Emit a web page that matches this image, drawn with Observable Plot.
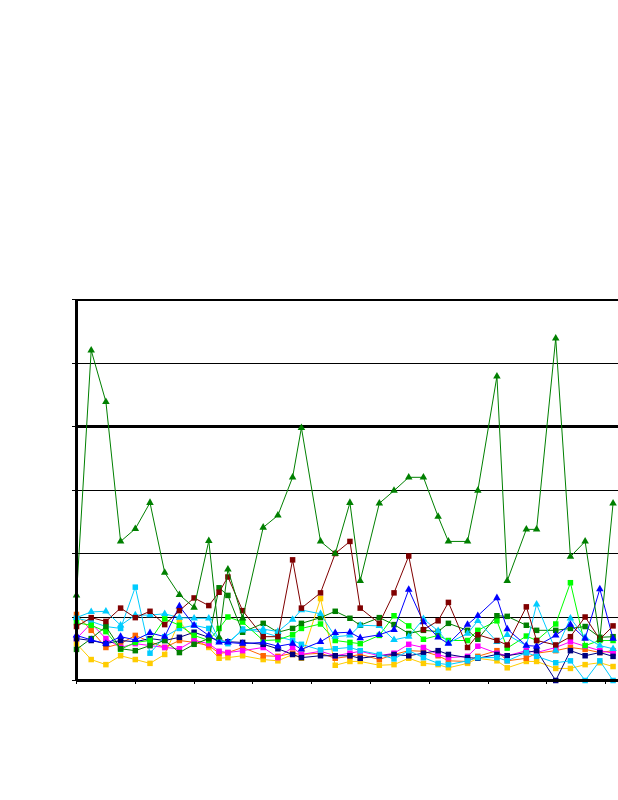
<!DOCTYPE html>
<html><head><meta charset="utf-8">
<script src="https://cdn.jsdelivr.net/npm/d3@7"></script>
<script src="https://cdn.jsdelivr.net/npm/@observablehq/plot@0.6"></script>
<style>body{margin:0;background:#fff;font-family:"Liberation Sans",Arial,sans-serif;}</style>
</head><body><div id="chart"></div>
<script>
// x positions (period index)
const xs = [0,1,2,3,4,5,6,7,8,9,9.7,10.3,11.3,12.7,13.7,14.7,15.3,16.6,17.6,18.6,19.3,20.6,21.6,22.6,23.6,24.6,25.3,26.6,27.3,28.6,29.3,30.6,31.3,32.6,33.6,34.6,35.6,36.5];

const greenTri = [13.4,52.0,43.9,21.9,23.9,28.0,17.0,13.5,11.5,22.0,6.8,17.5,9.8,24.1,26.0,32.0,39.8,21.9,20.0,28.0,15.7,27.9,29.9,32.0,32.0,25.8,21.9,21.9,29.9,47.9,15.7,23.8,23.8,53.9,19.5,21.9,6.5,27.9];
const darkRed = [8.5,9.9,9.3,11.4,9.9,10.9,8.8,11.0,13.0,11.8,13.9,16.3,11.0,6.9,6.9,19.0,11.4,13.8,20.0,21.9,11.4,9.0,13.8,19.6,8.0,9.4,12.3,5.2,7.2,6.3,5.6,11.6,6.3,5.6,6.9,10.0,6.5,8.6];
const blueTri = [7.1,6.4,5.8,6.9,6.4,7.5,6.9,11.7,8.7,7.1,6.0,6.0,5.8,6.0,5.4,5.8,4.9,6.1,7.5,7.6,6.7,7.2,8.0,14.3,9.2,6.8,5.8,8.8,10.2,13.0,8.1,5.5,5.4,7.1,8.8,6.6,14.4,6.6];
const skyTri = [9.9,10.8,10.9,8.7,10.3,10.3,10.5,9.9,9.8,9.8,6.3,6.0,7.9,8.1,7.7,9.6,11.1,10.5,6.9,7.1,8.7,8.6,6.4,6.9,9.7,7.8,5.9,7.4,9.4,6.1,7.2,5.5,12.0,4.7,9.8,6.8,5.5,5.0];
const skySq = [9.8,9.3,8.5,8.2,14.7,4.3,6.9,8.2,8.7,8.2,6.3,5.8,8.1,7.6,6.9,6.3,5.7,4.8,5.0,5.2,4.7,4.1,3.4,4.7,3.6,2.7,2.5,3.1,3.6,3.6,3.1,4.4,3.8,2.8,3.1,0.0,3.1,0.0];
const darkGreenSq = [4.9,6.6,8.5,5.0,4.7,5.5,6.3,4.4,5.7,6.6,14.6,13.4,7.6,9.0,7.6,8.2,9.0,9.9,10.9,9.8,8.7,9.9,8.8,7.4,7.9,7.7,9.0,7.9,6.5,10.2,10.1,8.7,7.9,7.9,8.2,8.5,6.8,6.9];
const limeSq = [9.1,8.7,7.7,4.9,6.0,6.3,9.7,8.7,7.1,6.3,8.2,10.0,9.2,6.3,6.4,7.2,8.2,8.9,6.3,6.0,5.8,7.1,10.2,8.6,6.5,7.1,6.3,6.3,7.9,9.4,5.1,7.0,6.3,8.9,15.4,5.5,6.3,6.3];
const navySq = [6.6,6.3,5.8,6.3,6.1,6.6,6.3,6.8,7.6,6.8,6.3,6.1,6.0,5.7,5.0,4.1,3.6,3.9,3.9,3.9,3.5,3.9,4.1,3.9,4.3,4.7,4.1,3.6,3.5,4.1,3.9,4.4,4.7,0.0,4.7,3.9,4.4,3.8];
const magentaSq = [6.6,9.0,6.6,5.2,5.8,5.5,5.2,5.0,6.3,5.8,4.6,4.4,4.7,5.2,3.6,5.2,4.1,4.6,3.9,4.3,4.6,3.9,4.3,5.7,5.2,4.1,3.6,3.8,5.4,4.3,3.9,4.7,4.4,5.2,6.1,5.4,4.7,4.3];
const orangeSq = [10.4,7.9,5.2,5.8,7.1,6.1,5.2,6.3,6.0,5.5,4.3,4.4,5.2,3.9,3.8,4.3,4.1,4.3,3.5,3.8,4.1,3.3,4.1,4.7,4.6,3.9,3.1,3.0,3.8,4.7,3.1,3.5,4.3,4.7,5.2,4.9,4.4,4.7];
const goldSq = [5.8,3.3,2.5,3.9,3.3,2.7,4.1,9.3,6.6,5.2,3.5,3.6,3.9,3.3,3.1,4.1,3.5,12.9,2.4,3.0,3.0,2.4,2.5,3.5,2.7,2.5,2.0,2.7,3.5,3.1,2.0,3.0,3.0,1.9,1.9,2.5,2.8,2.2];

const xTicks = [0,4,8,12,16,20,24,28,32,36];
const yTicks = [0,10,20,30,40,50,60];
const gridValues = [10,20,30,50];
const thickValue = [40];

// drawing order (first = bottom)
const seriesValues = [goldSq, orangeSq, magentaSq, navySq, skySq, limeSq, darkGreenSq, skyTri, blueTri, darkRed, greenTri];
const seriesColors = ["#FFCC00","#FF6600","#FF00FF","#000080","#00CCFF","#00FF00","#008000","#00CCFF","#0000FF","#800000","#008000"];
const seriesSymbols = ["square","square","square","square","square","square","square","triangle","triangle","square","triangle"];

const crisp = {shapeRendering: "crispEdges"};
const marks = [
  Plot.ruleY(gridValues, {stroke: "#000", strokeWidth: 1, ...crisp}),
  Plot.ruleY(thickValue, {stroke: "#000", strokeWidth: 3, ...crisp}),
  Plot.ruleY([60], {stroke: "#000", strokeWidth: 2, ...crisp}),
  Plot.axisX({ticks: xTicks, tickSize: 4, tickFormat: () => "", label: null, strokeWidth: 1, ...crisp}),
  Plot.axisY({ticks: yTicks, tickSize: 4, tickFormat: () => "", label: null, strokeWidth: 1, ...crisp})
];
seriesValues.forEach((vals, k) => {
  const data = vals.map((v, i) => ({x: xs[i], y: v}));
  marks.push(Plot.line(data, {x: "x", y: "y", stroke: seriesColors[k], strokeWidth: 1}));
  marks.push(Plot.dot(data, {x: "x", y: "y", symbol: seriesSymbols[k], fill: seriesColors[k], stroke: "none", r: seriesSymbols[k] === "square" ? 3.1 : 2.8}));
});
marks.push(Plot.ruleX([0], {stroke: "#000", strokeWidth: 2.5, ...crisp}));
marks.push(Plot.ruleY([0], {stroke: "#000", strokeWidth: 3, ...crisp}));

const chart = Plot.plot({
  width: 618,
  height: 800,
  marginLeft: 76,
  marginRight: 0,
  marginTop: 299,
  marginBottom: 120,
  x: {domain: [0, 36.87]},
  y: {domain: [0, 60]},
  style: {background: "#fff"},
  marks
});
document.getElementById("chart").appendChild(chart);
</script>
</body></html>
